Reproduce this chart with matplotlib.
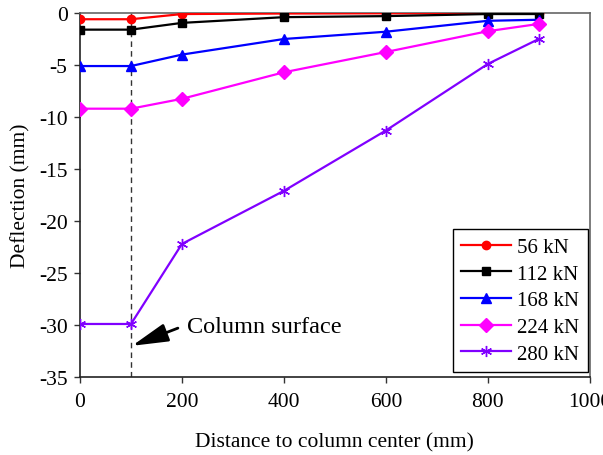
import matplotlib
matplotlib.use("Agg")
import matplotlib.pyplot as plt

plt.rcParams['font.family'] = ['Liberation Serif', 'DejaVu Serif']

distance = [0, 100, 200, 400, 600, 800, 900]
d56 = [-0.6, -0.6, -0.1, -0.05, -0.03, -0.02, 0.0]
d112 = [-1.6, -1.6, -0.95, -0.4, -0.3, -0.1, -0.1]
d168 = [-5.1, -5.1, -4.0, -2.5, -1.8, -0.75, -0.65]
d224 = [-9.2, -9.2, -8.25, -5.7, -3.75, -1.75, -1.05]
d280 = [-29.9, -29.9, -22.2, -17.1, -11.3, -4.9, -2.5]
labels = ['56 kN', '112 kN', '168 kN', '224 kN', '280 kN']
column_x = 100

fig = plt.figure(figsize=(6.03, 4.56), dpi=100)
ax = fig.add_axes([0.1327, 0.171, 0.8453, 0.7983])

styles = [
    (d56, '#FF0000', 'o', 6),
    (d112, '#000000', 's', 6),
    (d168, '#0000FF', '^', 7),
    (d224, '#FF00FF', 'D', 7),
    (d280, '#8000FF', (6, 2, 0), 8),
]
for (vals, c, m, ms), lab in zip(styles, labels):
    ax.plot(distance, vals, color=c, lw=1.6, marker=m, ms=ms, label=lab,
            markeredgewidth=1.0, zorder=3)

ax.axvline(column_x, color='#333333', lw=1.0, ls=(0, (4, 3)), zorder=2)

ax.text(210, -30.1, 'Column surface', fontsize=17.5, va='center', ha='left')
ax.annotate('', xy=(102, -32.0), xytext=(192, -30.3),
            arrowprops=dict(arrowstyle='-|>,head_length=1.1,head_width=0.28',
                            mutation_scale=20, color='black', lw=2.0,
                            shrinkA=0, shrinkB=0))

ax.set_xlim(0, 1000)
ax.set_ylim(-35, 0)
ax.set_xticks([0, 200, 400, 600, 800, 1000])
ax.set_yticks([0, -5, -10, -15, -20, -25, -30, -35])
ax.set_xticklabels(['0', '200', '400', '600', '800', '1000'])
ax.set_yticklabels(['0', '-5', '-10', '-15', '-20', '-25', '-30', '-35'])
ax.tick_params(axis='both', labelsize=15.5, direction='out', length=4, width=1,
               color='#333333', top=False, right=False)
ax.tick_params(axis='x', pad=7)
ax.tick_params(axis='y', pad=5)
ax.set_xlabel('Distance to column center (mm)', fontsize=15.5, labelpad=15)
ax.set_ylabel('Deflection (mm)', fontsize=15.5, labelpad=6)

for s in ['left', 'bottom']:
    ax.spines[s].set_color('#222222')
    ax.spines[s].set_linewidth(1.2)
for s in ['top', 'right']:
    ax.spines[s].set_color('#666666')
    ax.spines[s].set_linewidth(1.2)

leg = ax.legend(loc='lower right', fontsize=15, frameon=True, fancybox=False,
                edgecolor='black', framealpha=1, borderaxespad=0,
                handlelength=2.4, labelspacing=0.34, handletextpad=0.3,
                borderpad=0.4, bbox_to_anchor=(0.996, 0.014))
leg.get_frame().set_linewidth(1.0)

fig.savefig('out.png', dpi=100)
